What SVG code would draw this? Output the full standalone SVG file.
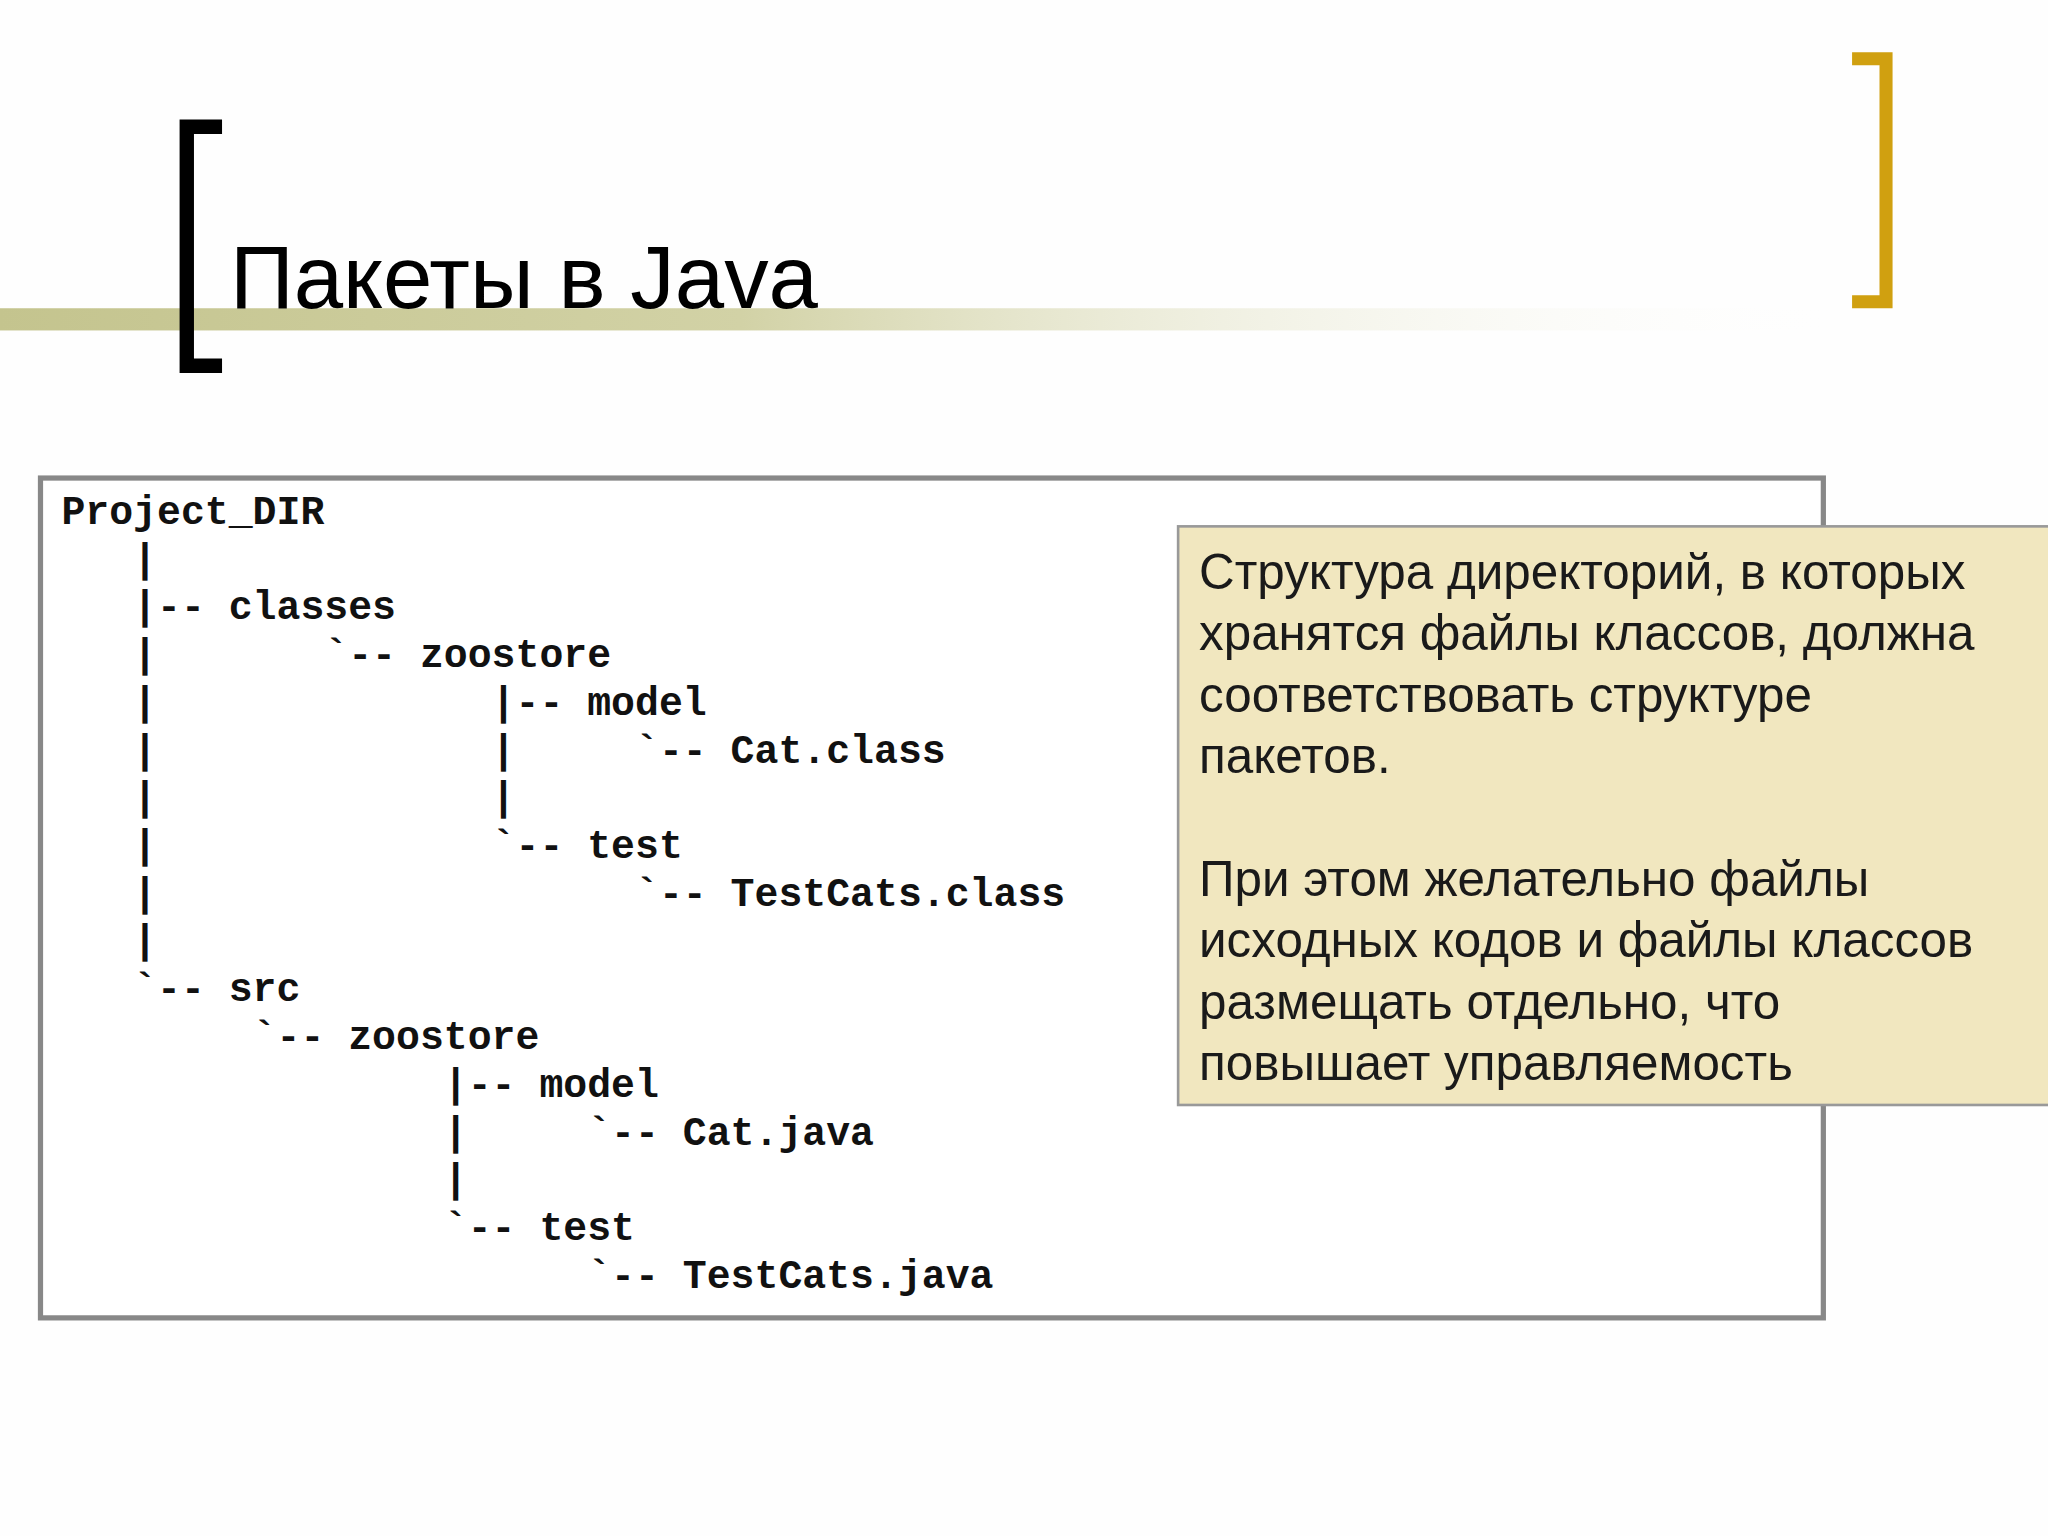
<svg xmlns="http://www.w3.org/2000/svg" width="2048" height="1536" viewBox="0 0 2048 1536">
<defs>
<linearGradient id="bar" x1="0" x2="1" y1="0" y2="0">
<stop offset="0" stop-color="#c4c48e"/><stop offset="0.4" stop-color="#d2d2a6"/><stop offset="1" stop-color="#ffffff" stop-opacity="0"/>
</linearGradient>
<style>
.mono{font-family:"Liberation Mono","DejaVu Sans Mono",monospace;font-weight:bold;font-size:30.5px;fill:#111}
.body{font-family:"Liberation Sans","Noto Sans",Arial,sans-serif;font-size:37.8px;fill:#1a1a1a}
</style>
</defs>
<rect width="2048" height="1536" fill="#fefefe"/>
<g transform="scale(1.30612)">
<g id="header">
<rect x="0" y="236" width="1420" height="17" fill="url(#bar)"/>
<path d="M170 97 H143 V280 H170" fill="none" stroke="#000" stroke-width="11"/>
<path d="M1418 45 H1444 V231 H1418" fill="none" stroke="#d0a010" stroke-width="10"/>
<text x="176" y="236" style="font-family:'Liberation Sans','Noto Sans',Arial,sans-serif;font-size:68px;fill:#000">Пакеты в Java</text>
</g>
<g id="tree">
<rect x="31" y="366" width="1365" height="643" fill="#fff" stroke="#888" stroke-width="4"/>
<text class="mono" xml:space="preserve">
<tspan x="47" y="401">Project_DIR</tspan>
<tspan x="47" y="437.6">   |</tspan>
<tspan x="47" y="474.1">   |-- classes</tspan>
<tspan x="47" y="510.7">   |       `-- zoostore</tspan>
<tspan x="47" y="547.2">   |              |-- model</tspan>
<tspan x="47" y="583.8">   |              |     `-- Cat.class</tspan>
<tspan x="47" y="620.4">   |              |</tspan>
<tspan x="47" y="656.9">   |              `-- test</tspan>
<tspan x="47" y="693.5">   |                    `-- TestCats.class</tspan>
<tspan x="47" y="730">   |</tspan>
<tspan x="47" y="766.6">   `-- src</tspan>
<tspan x="47" y="803.2">        `-- zoostore</tspan>
<tspan x="47" y="839.7">                |-- model</tspan>
<tspan x="47" y="876.3">                |     `-- Cat.java</tspan>
<tspan x="47" y="912.8">                |</tspan>
<tspan x="47" y="949.4">                `-- test</tspan>
<tspan x="47" y="986">                      `-- TestCats.java</tspan>
</text>
</g>
<g id="note">
<rect x="902" y="403" width="670" height="443" fill="#f1e7bf" stroke="#999" stroke-width="2"/>
<text class="body">
<tspan x="918" y="451">Структура директорий, в которых</tspan>
<tspan x="918" y="498">хранятся файлы классов, должна</tspan>
<tspan x="918" y="545">соответствовать структуре</tspan>
<tspan x="918" y="592">пакетов.</tspan>
<tspan x="918" y="686">При этом желательно файлы</tspan>
<tspan x="918" y="733">исходных кодов и файлы классов</tspan>
<tspan x="918" y="780">размещать отдельно, что</tspan>
<tspan x="918" y="827">повышает управляемость</tspan>
</text>
</g>
</g>
</svg>
